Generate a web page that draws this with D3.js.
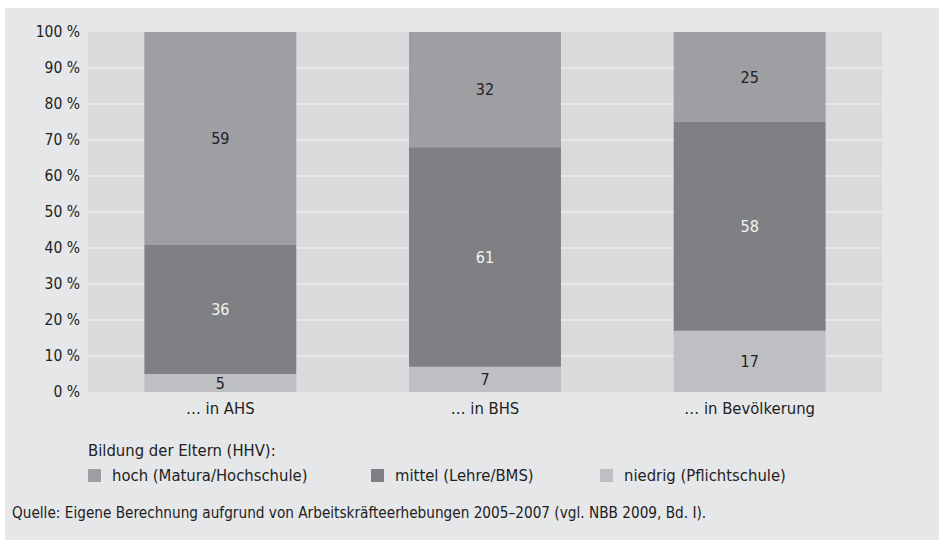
<!DOCTYPE html>
<html>
<head>
<meta charset="utf-8">
<script src="https://cdn.jsdelivr.net/npm/d3@7"></script>
<style>
  html, body { margin: 0; padding: 0; background: #ffffff; }
  svg text { font-family: "Liberation Sans Narrow", "DejaVu Sans Condensed", "Roboto Condensed", sans-serif; }
</style>
</head>
<body>
<svg id="chart" width="939" height="540"></svg>
<script>
// Categories and shares (percent) of parental education levels
const categories = ["… in AHS", "… in BHS", "… in Bevölkerung"];
const seriesNames = ["niedrig (Pflichtschule)", "mittel (Lehre/BMS)", "hoch (Matura/Hochschule)"];
const niedrig = [5, 7, 17];
const mittel = [36, 61, 58];
const hoch = [59, 32, 25];
const yTicks = [0, 10, 20, 30, 40, 50, 60, 70, 80, 90, 100];
const legendTitle = "Bildung der Eltern (HHV):";
const legendOrder = ["hoch (Matura/Hochschule)", "mittel (Lehre/BMS)", "niedrig (Pflichtschule)"];
const sourceText = "Quelle: Eigene Berechnung aufgrund von Arbeitskräfteerhebungen 2005–2007 (vgl. NBB 2009, Bd. I).";

const colors = {
  "hoch (Matura/Hochschule)": "#9e9fa2",
  "mittel (Lehre/BMS)": "#7f8083",
  "niedrig (Pflichtschule)": "#bebfc2"
};
const labelColors = {
  "hoch (Matura/Hochschule)": "#222222",
  "mittel (Lehre/BMS)": "#f4f4f4",
  "niedrig (Pflichtschule)": "#222222"
};

const rows = categories.map((c, i) => ({
  cat: c,
  "niedrig (Pflichtschule)": niedrig[i],
  "mittel (Lehre/BMS)": mittel[i],
  "hoch (Matura/Hochschule)": hoch[i]
}));

const svg = d3.select("#chart");

// Panel background
svg.append("rect").attr("x", 5).attr("y", 8).attr("width", 934).attr("height", 532).attr("fill", "#e6e7e9");

const plot = { left: 88, right: 882, top: 32, bottom: 392 };

svg.append("rect")
  .attr("x", plot.left).attr("y", plot.top)
  .attr("width", plot.right - plot.left).attr("height", plot.bottom - plot.top)
  .attr("fill", "#d9dadc");

const x = d3.scaleBand().domain(categories).range([plot.left, plot.right])
  .paddingInner(0.426).paddingOuter(0.213);
const y = d3.scaleLinear().domain([0, 100]).range([plot.bottom, plot.top]);

// Gridlines
svg.append("g").selectAll("line")
  .data(yTicks.filter(t => t > 0 && t < 100))
  .join("line")
  .attr("x1", plot.left).attr("x2", plot.right)
  .attr("y1", d => y(d)).attr("y2", d => y(d))
  .attr("stroke", "#e8e9eb").attr("stroke-width", 2);

// Y axis
const yAxis = d3.axisLeft(y).tickValues(yTicks).tickFormat(d => d + " %").tickSize(0).tickPadding(8);
const gy = svg.append("g").attr("transform", `translate(${plot.left},0)`).call(yAxis);
gy.select(".domain").remove();
gy.selectAll("text").attr("font-size", 15.5).attr("fill", "#222");

// Stacked bars
const stack = d3.stack().keys(seriesNames);
const layers = stack(rows);

const g = svg.append("g");
layers.forEach(layer => {
  const key = layer.key;
  g.append("g").selectAll("rect")
    .data(layer)
    .join("rect")
    .attr("x", d => x(d.data.cat))
    .attr("width", x.bandwidth())
    .attr("y", d => y(d[1]))
    .attr("height", d => y(d[0]) - y(d[1]))
    .attr("fill", colors[key]);
  g.append("g").selectAll("text")
    .data(layer)
    .join("text")
    .attr("x", d => x(d.data.cat) + x.bandwidth() / 2)
    .attr("y", d => (y(d[0]) + y(d[1])) / 2)
    .attr("dy", "0.36em")
    .attr("text-anchor", "middle")
    .attr("font-size", 16)
    .attr("fill", labelColors[key])
    .text(d => d[1] - d[0]);
});

// X axis labels
const xAxis = d3.axisBottom(x).tickSize(0).tickPadding(10);
const gx = svg.append("g").attr("transform", `translate(0,${plot.bottom})`).call(xAxis);
gx.select(".domain").remove();
gx.selectAll("text").attr("font-size", 16.5).attr("fill", "#222");

// Legend
svg.append("text").attr("x", 88).attr("y", 450).attr("dy", "0.35em")
  .attr("font-size", 16.5).attr("fill", "#222").text(legendTitle);

const legendX = [88, 371, 600];
const leg = svg.append("g").selectAll("g").data(legendOrder).join("g")
  .attr("transform", (d, i) => `translate(${legendX[i]},475)`);
leg.append("rect").attr("x", 0).attr("y", -6).attr("width", 13).attr("height", 13)
  .attr("fill", d => colors[d]);
leg.append("text").attr("x", 24).attr("y", 0).attr("dy", "0.35em")
  .attr("font-size", 16.5).attr("fill", "#222").text(d => d);

// Source note
svg.append("text").attr("x", 12).attr("y", 513).attr("dy", "0.35em")
  .attr("font-size", 15.2).attr("fill", "#222").text(sourceText);
</script>
</body>
</html>
